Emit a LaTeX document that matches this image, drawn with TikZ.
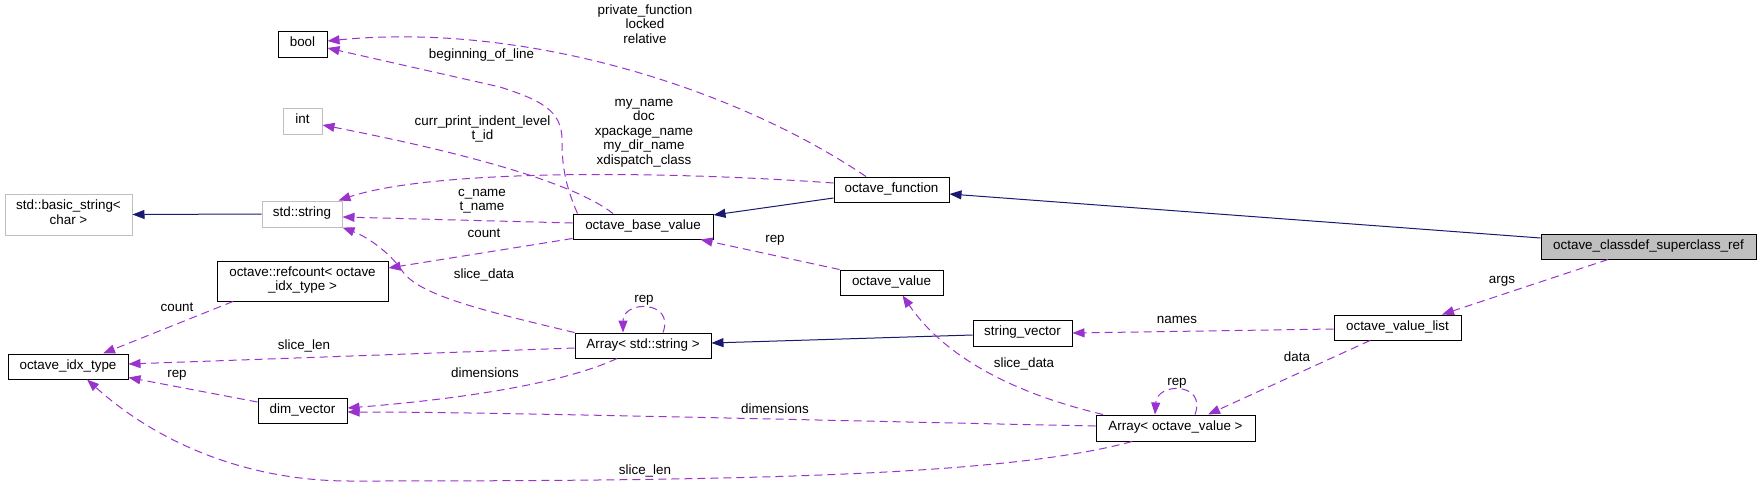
\documentclass[tikz,border=0pt]{standalone}
\usepackage{fontspec}
\setmainfont{Liberation Sans}
\usetikzlibrary{arrows.meta}
\definecolor{navy}{HTML}{191970}
\definecolor{orch}{HTML}{9A32CD}
\definecolor{gr}{HTML}{BFBFBF}
\begin{document}
\begin{tikzpicture}[x=1pt,y=-1pt,
  every node/.style={font=\fontsize{13.4}{14.5}\selectfont, execute at begin node=\strut, execute at end node=\strut, inner sep=0pt, align=center},
  cls/.style={draw=black, line width=1pt, fill=white},
  ext/.style={draw=gr, line width=1pt, fill=white},
  root/.style={draw=black, line width=1pt, fill=gr},
  inh/.style={draw=navy, line width=1pt, -{Triangle[length=12pt,width=9pt]}},
  dep/.style={draw=orch, line width=1pt, dash pattern=on 8pt off 5pt, -{Triangle[length=12pt,width=9pt]}},
  lbl/.style={}]
\useasboundingbox (0,0) rectangle (1761,485);
% nodes
\node[cls, minimum width=49pt, minimum height=26pt] (bool) at (302.5,44) {bool};
\node[ext, minimum width=39pt, minimum height=26pt] (int) at (302.5,121) {int};
\node[ext, minimum width=127pt, minimum height=41pt] (bstr) at (68.5,214.5) {std::basic\_string<\\char >};
\node[ext, minimum width=80pt, minimum height=26pt] (sstr) at (302,214) {std::string};
\node[cls, minimum width=171pt, minimum height=40pt] (refc) at (302.5,281) {octave::refcount< octave\\\_idx\_type >};
\node[cls, minimum width=120pt, minimum height=25pt] (idx) at (68,366.5) {octave\_idx\_type};
\node[cls, minimum width=89pt, minimum height=25pt] (dimv) at (302.5,410.5) {dim\_vector};
\node[cls, minimum width=140pt, minimum height=25pt] (obv) at (643,226.5) {octave\_base\_value};
\node[cls, minimum width=115pt, minimum height=25pt] (ofunc) at (891.5,189.5) {octave\_function};
\node[cls, minimum width=136pt, minimum height=25pt] (astr) at (643,345.5) {Array< std::string >};
\node[cls, minimum width=103pt, minimum height=25pt] (oval) at (891.5,282.5) {octave\_value};
\node[cls, minimum width=99pt, minimum height=26pt] (svec) at (1022.5,333) {string\_vector};
\node[cls, minimum width=127pt, minimum height=25pt] (ovl) at (1397.5,327.5) {octave\_value\_list};
\node[cls, minimum width=159pt, minimum height=26pt] (aov) at (1175.5,428) {Array< octave\_value >};
\node[root, minimum width=215pt, minimum height=25pt] (cdef) at (1648.5,246.5) {octave\_classdef\_superclass\_ref};
% inheritance
\draw[inh] ([yshift=8.5pt]cdef.west) -- ([yshift=-4.5pt]ofunc.east);
\draw[inh] ([yshift=-8.5pt]ofunc.west) -- ([yshift=11.5pt]obv.east);
\draw[inh] (sstr.west) -- (bstr.east);
\draw[inh] ([yshift=-2pt]svec.west) -- ([yshift=2.5pt]astr.east);
% usage
\draw[dep] ([xshift=-25.5pt]ofunc.north) .. controls (730,85) and (520,22) .. ([yshift=3pt]bool.east);
\draw[dep] ([xshift=5pt]obv.north west) .. controls (565,185) and (562,165) .. (562,140) .. controls (562,110) and (540,100) .. (500,87) -- ([yshift=-4pt]bool.east);
\draw[dep] ([xshift=-30pt]obv.north) .. controls (570,180) and (450,150) .. ([yshift=-4pt]int.east);
\draw[dep] ([yshift=6.5pt]ofunc.west) .. controls (650,170) and (430,170) .. ([xshift=-4pt]sstr.north east);
\draw[dep] ([yshift=3.5pt]obv.west) -- ([yshift=-3pt]sstr.east);
\draw[dep] ([yshift=1pt]obv.south west) -- ([yshift=13pt]refc.east);
\draw[dep] (astr.north west) .. controls (480,310) and (420,295) .. (403,272) .. controls (392,255) and (370,238) .. (sstr.south east);
\draw[dep] ([yshift=-2.5pt]astr.west) -- ([yshift=2.5pt]idx.east);
\draw[dep] ([xshift=-26pt]astr.south) .. controls (560,385) and (450,400) .. ([yshift=2.5pt]dimv.east);
\draw[dep] ([xshift=20pt]astr.north) .. controls (675,300) and (623,300) .. ([xshift=-20pt]astr.north);
\draw[dep] ([yshift=8.5pt]dimv.west) -- ([yshift=-11pt]idx.east);
\draw[dep] ([xshift=-69.5pt]refc.south) -- ([xshift=35pt]idx.north);
\draw[dep] (oval.north west) -- ([xshift=-13pt]obv.south east);
\draw[dep] ([xshift=-72.5pt]aov.north) .. controls (1000,390) and (940,350) .. ([xshift=11pt]oval.south);
\draw[dep] ([yshift=2pt]aov.west) .. controls (800,420) and (500,412) .. ([yshift=-1.5pt]dimv.east);
\draw[dep] ([xshift=-43.5pt]aov.south) .. controls (1000,478) and (700,481) .. (350,481) .. controls (250,481) and (160,445) .. ([xshift=19pt]idx.south);
\draw[dep] ([xshift=19.5pt]aov.north) .. controls (1207,382) and (1157,382) .. ([xshift=-20.5pt]aov.north);
\draw[dep] ([xshift=-27.5pt]ovl.south) -- ([xshift=32.5pt]aov.north);
\draw[dep] ([yshift=-1.5pt]ovl.west) -- (svec.east);
\draw[dep] ([xshift=-40.5pt]cdef.south) -- ([xshift=44.5pt]ovl.north);
% labels
\node[lbl] (l1) at (645,26) {private\_function\\locked\\relative};
\node[lbl] (l2) at (481.5,56) {beginning\_of\_line};
\node[lbl] (l3) at (482.5,130) {curr\_print\_indent\_level\\t\_id};
\node[lbl] (l4) at (644,134) {my\_name\\doc\\xpackage\_name\\my\_dir\_name\\xdispatch\_class};
\node[lbl] (l5) at (482,202) {c\_name\\t\_name};
\node[lbl] (l6) at (484,235) {count};
\node[lbl] (l7) at (484,276) {slice\_data};
\node[lbl] (l8) at (177,309) {count};
\node[lbl] (l9) at (304,347) {slice\_len};
\node[lbl] (l10) at (177,375) {rep};
\node[lbl] (l11) at (485,375) {dimensions};
\node[lbl] (l12) at (644,300) {rep};
\node[lbl] (l13) at (775,240) {rep};
\node[lbl] (l14) at (775,411) {dimensions};
\node[lbl] (l15) at (645,472) {slice\_len};
\node[lbl] (l16) at (1024,365) {slice\_data};
\node[lbl] (l17) at (1177,321) {names};
\node[lbl] (l18) at (1177,383) {rep};
\node[lbl] (l19) at (1297,359) {data};
\node[lbl] (l20) at (1502,281) {args};
\end{tikzpicture}
\end{document}
